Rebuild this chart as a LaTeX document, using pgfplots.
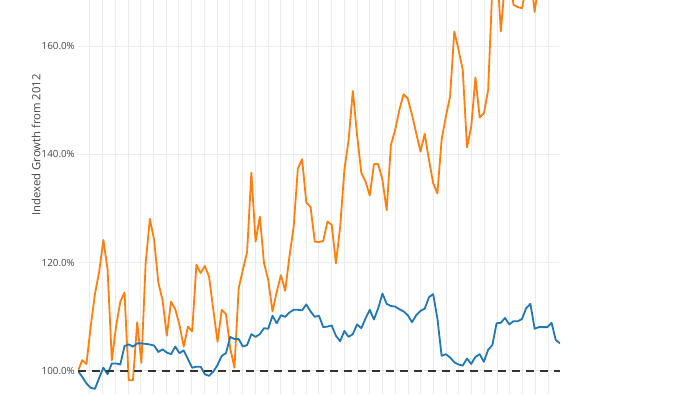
\documentclass[border=0pt]{standalone}
\usepackage{pgfplots}
\pgfplotsset{compat=1.18}
\usepackage{fontspec}
\setmainfont{Open Sans}
\definecolor{porange}{HTML}{FF7F0E}
\definecolor{pblue}{HTML}{1F77B4}
\definecolor{gridc}{HTML}{EBEBEB}
\definecolor{txt}{HTML}{444444}
\begin{document}
\begin{tikzpicture}
\path[use as bounding box] (0,0) rectangle (700pt,394pt);
\begin{axis}[
  at={(78pt,0pt)}, anchor=south west,
  scale only axis, width=482pt, height=394pt,
  xmin=0, xmax=114, ymin=95.75, ymax=168.51,
  axis line style={draw=none}, tick style={draw=none},
  xtick={2.8,5.81,...,111.2}, xticklabels={},
  ytick={100,120,140,160},
  yticklabels={100.0\%,120.0\%,140.0\%,160.0\%},
  yticklabel style={font=\fontsize{9.8}{11}\selectfont, text=txt, inner sep=0pt},
  yticklabel shift=3pt,
  grid=major, major grid style={gridc, line width=1pt},
  ylabel={Indexed Growth from 2012},
  ylabel style={at={(axis description cs:-0.087,0.632)}, anchor=center, font=\fontsize{11.3}{14}\selectfont, text=txt},
  /pgf/number format/assume math mode=true,
]
\addplot[porange, line width=1.8pt, line join=round] coordinates {
(0,100.0)(1,102.0)(2,101.3)(3,108.2)(4,114.2)(5,118.3)(6,124.2)(7,118.7)(8,102.0)(9,108.2)
(10,112.8)(11,114.5)(12,98.3)(13,98.3)(14,109.0)(15,101.5)(16,119.9)(17,128.1)(18,124.2)(19,116.3)
(20,113.1)(21,106.5)(22,112.8)(23,111.4)(24,108.5)(25,104.5)(26,108.2)(27,107.3)(28,119.6)(29,118.1)
(30,119.4)(31,117.4)(32,111.3)(33,105.4)(34,111.3)(35,110.5)(36,104.2)(37,100.6)(38,115.3)(39,118.7)
(40,122.0)(41,136.6)(42,123.9)(43,128.5)(44,119.9)(45,116.8)(46,111.0)(47,114.6)(48,117.7)(49,114.8)
(50,121.1)(51,126.6)(52,137.4)(53,139.1)(54,131.1)(55,130.3)(56,123.9)(57,123.8)(58,124.0)(59,127.6)
(60,127.0)(61,119.9)(62,126.6)(63,137.1)(64,142.7)(65,151.7)(66,143.6)(67,136.6)(68,135.0)(69,132.4)
(70,138.2)(71,138.2)(72,135.3)(73,129.7)(74,141.7)(75,144.5)(76,148.2)(77,151.1)(78,150.3)(79,147.3)
(80,143.9)(81,140.5)(82,143.8)(83,139.0)(84,134.7)(85,132.8)(86,142.7)(87,147.0)(88,150.7)(89,162.7)
(90,159.3)(91,155.6)(92,141.3)(93,145.1)(94,154.2)(95,146.8)(96,147.6)(97,151.9)(98,171.0)(99,176.0)
(100,162.7)(101,172.0)(102,174.0)(103,167.6)(104,167.2)(105,167.0)(106,171.0)(107,173.0)(108,166.3)(109,172.0)
(110,175.0)(111,178.0)(112,176.0)(113,180.0)(114,178.0)
};
\addplot[pblue, line width=1.8pt, line join=round] coordinates {
(0,100.0)(1,98.9)(2,97.7)(3,96.9)(4,96.7)(5,98.7)(6,100.6)(7,99.4)(8,101.4)(9,101.4)
(10,101.2)(11,104.6)(12,104.9)(13,104.5)(14,105.1)(15,105.1)(16,105.0)(17,104.9)(18,104.7)(19,103.5)
(20,104.0)(21,103.4)(22,103.1)(23,104.5)(24,103.3)(25,103.8)(26,102.2)(27,100.6)(28,100.8)(29,100.8)
(30,99.4)(31,99.1)(32,99.9)(33,101.1)(34,102.8)(35,103.3)(36,106.3)(37,105.9)(38,105.9)(39,104.5)
(40,104.8)(41,106.8)(42,106.3)(43,106.8)(44,107.9)(45,107.8)(46,110.2)(47,108.8)(48,110.3)(49,110.0)
(50,110.8)(51,111.3)(52,111.3)(53,111.2)(54,112.3)(55,111.0)(56,110.0)(57,110.2)(58,108.1)(59,108.2)
(60,108.4)(61,106.5)(62,105.5)(63,107.4)(64,106.3)(65,106.8)(66,108.6)(67,107.9)(68,109.7)(69,111.3)
(70,109.5)(71,111.6)(72,114.3)(73,112.4)(74,112.0)(75,111.9)(76,111.4)(77,111.0)(78,110.3)(79,109.0)
(80,110.3)(81,111.1)(82,111.5)(83,113.6)(84,114.2)(85,109.7)(86,102.8)(87,103.1)(88,102.5)(89,101.6)
(90,101.2)(91,101.0)(92,102.3)(93,101.3)(94,102.6)(95,103.1)(96,101.7)(97,103.9)(98,104.8)(99,108.8)
(100,108.9)(101,109.8)(102,108.6)(103,109.2)(104,109.2)(105,109.6)(106,111.6)(107,112.4)(108,107.8)(109,108.1)
(110,108.1)(111,108.1)(112,108.9)(113,105.7)(114,105.1)
};
\addplot[black!80, line width=1.8pt, dash pattern=on 8pt off 6pt] coordinates {(0,100) (114,100)};
\end{axis}
\end{tikzpicture}
\end{document}
